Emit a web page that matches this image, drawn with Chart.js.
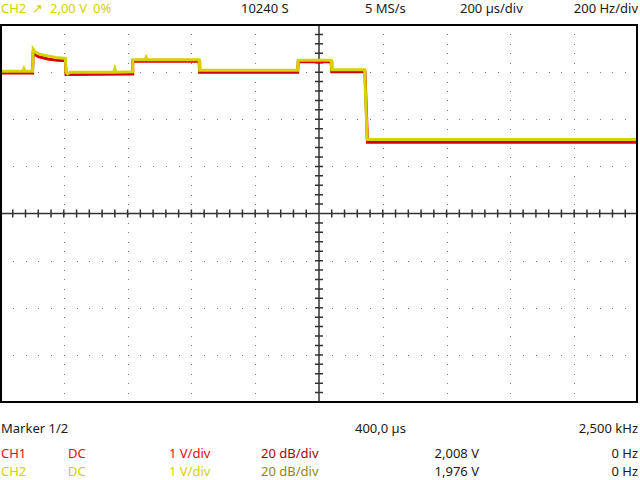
<!DOCTYPE html>
<html lang="en">
<head>
    <meta charset="UTF-8">
    <title>Scope capture</title>
    <script src="https://cdn.jsdelivr.net/npm/chart.js"></script>
    <style>
        body {
            margin: 0;
            width: 640px;
            height: 480px;
            background: #ffffff;
            font-family: "Noto Sans", "Open Sans", sans-serif;
            font-size: 13px;
            overflow: hidden;
            position: relative;
        }

        .t {
            position: absolute;
            line-height: 13px;
            white-space: nowrap;
            color: #1a1a1a;
        }

        .r { text-align: right; }
        .ch1 { color: #e01010; }
        .ch2 { color: #d6cf00; }
        .ch1d { color: #9a0a0a; }
        .ch2d { color: #8c8a10; }

        #scope {
            position: absolute;
            left: 0;
            top: 24px;
        }
    </style>
</head>
<body>
    <!-- header line -->
    <div class="t ch2" style="left:1px; top:1.5px;">CH2</div>
    <div class="t ch2" style="left:32px; top:1.5px;">↗</div>
    <div class="t ch2" style="left:50px; top:1.5px;">2,00 V</div>
    <div class="t ch2" style="left:93px; top:1.5px;">0%</div>
    <div class="t" style="left:241px; top:1.5px;">10240 S</div>
    <div class="t" style="left:365px; top:1.5px;">5 MS/s</div>
    <div class="t" style="left:460px; top:1.5px;">200 µs/div</div>
    <div class="t r" style="right:2px; top:1.5px;">200 Hz/div</div>

    <canvas id="scope" width="640" height="380"></canvas>

    <!-- marker / channel readout -->
    <div class="t" style="left:1px; top:421.5px;">Marker 1/2</div>
    <div class="t" style="left:355px; top:421.5px;">400,0 µs</div>
    <div class="t r" style="right:2px; top:421.5px;">2,500 kHz</div>

    <div class="t ch1" style="left:1px; top:446.5px;">CH1</div>
    <div class="t ch1" style="left:68px; top:446.5px;">DC</div>
    <div class="t ch1" style="left:169px; top:446.5px;">1 V/div</div>
    <div class="t ch1d" style="left:261px; top:446.5px;">20 dB/div</div>
    <div class="t r" style="right:161px; top:446.5px;">2,008 V</div>
    <div class="t r" style="right:2px; top:446.5px;">0 Hz</div>

    <div class="t ch2" style="left:1px; top:464.5px;">CH2</div>
    <div class="t ch2" style="left:68px; top:464.5px;">DC</div>
    <div class="t ch2" style="left:169px; top:464.5px;">1 V/div</div>
    <div class="t ch2d" style="left:261px; top:464.5px;">20 dB/div</div>
    <div class="t r" style="right:161px; top:464.5px;">1,976 V</div>
    <div class="t r" style="right:2px; top:464.5px;">0 Hz</div>

    <script>
        // time in µs, voltage in V (200 µs/div, 1 V/div)
        const ch2Time = [0, 72, 75, 78, 102, 104, 112, 125, 145, 175, 205, 207, 212, 220, 357, 360, 363, 414, 416, 455, 458, 461, 624, 626, 933, 935, 1038, 1040, 1143, 1151, 2000];
        const ch2Volt = [3.02, 3.02, 3.07, 3.02, 3.02, 3.49, 3.42, 3.38, 3.35, 3.31, 3.29, 3.00, 2.96, 3.00, 3.00, 3.07, 3.00, 3.01, 3.26, 3.26, 3.31, 3.26, 3.26, 3.04, 3.04, 3.25, 3.25, 3.05, 3.05, 1.57, 1.57];

        const ch1Time = [0, 102, 104, 120, 150, 180, 205, 207, 414, 416, 624, 626, 933, 935, 1038, 1040, 1144, 1152, 2000];
        const ch1Volt = [2.98, 2.98, 3.40, 3.33, 3.28, 3.25, 3.24, 2.95, 2.96, 3.23, 3.23, 3.00, 3.00, 3.22, 3.22, 3.01, 3.01, 1.51, 1.51];

        const timeDivs = 10;      // 200 µs/div
        const voltDivs = 8;       // 1 V/div
        const usPerDiv = 200;

        function toPoints(xs, ys) {
            return xs.map((x, i) => ({ x: x, y: ys[i] }));
        }

        // dotted graticule + centre cross with ticks, drawn under the traces
        const graticule = {
            id: 'graticule',
            beforeDatasetsDraw(chart) {
                const ctx = chart.ctx;
                const xs = chart.scales.x;
                const ys = chart.scales.y;
                const area = chart.chartArea;
                const tMax = usPerDiv * timeDivs;
                const vMax = voltDivs / 2;

                ctx.save();
                ctx.fillStyle = '#7a7a7a';
                // dots on vertical division lines
                for (let i = 1; i < timeDivs; i++) {
                    if (i === timeDivs / 2) continue;
                    const px = Math.round(xs.getPixelForValue(i * usPerDiv));
                    for (let k = 1; k < voltDivs * 5; k++) {
                        const py = Math.round(ys.getPixelForValue(-vMax + k * 0.2));
                        ctx.fillRect(px, py, 1, 1);
                    }
                }
                // dots on horizontal division lines
                for (let j = 1; j < voltDivs; j++) {
                    if (j === voltDivs / 2) continue;
                    const py = Math.round(ys.getPixelForValue(-vMax + j));
                    for (let k = 1; k < timeDivs * 5; k++) {
                        const px = Math.round(xs.getPixelForValue(k * usPerDiv / 5));
                        ctx.fillRect(px, py, 1, 1);
                    }
                }

                // centre cross
                const cx = xs.getPixelForValue(tMax / 2);
                const cy = ys.getPixelForValue(0);
                ctx.strokeStyle = '#333333';
                ctx.lineWidth = 1.5;
                ctx.beginPath();
                ctx.moveTo(area.left, cy);
                ctx.lineTo(area.right, cy);
                ctx.moveTo(cx, area.top);
                ctx.lineTo(cx, area.bottom);
                for (let k = 1; k < timeDivs * 5; k++) {
                    const px = xs.getPixelForValue(k * usPerDiv / 5);
                    ctx.moveTo(px, cy - 4);
                    ctx.lineTo(px, cy + 4);
                }
                for (let k = 1; k < voltDivs * 5; k++) {
                    const py = ys.getPixelForValue(-vMax + k * 0.2);
                    ctx.moveTo(cx - 4, py);
                    ctx.lineTo(cx + 4, py);
                }
                ctx.stroke();
                ctx.restore();
            },
            afterDraw(chart) {
                const ctx = chart.ctx;
                const a = chart.chartArea;
                ctx.save();
                ctx.strokeStyle = '#000000';
                ctx.lineWidth = 2;
                ctx.strokeRect(a.left + 1, a.top, a.right - a.left - 2, a.bottom - a.top);
                ctx.restore();
            }
        };

        const ctx = document.getElementById('scope').getContext('2d');
        new Chart(ctx, {
            type: 'line',
            data: {
                datasets: [
                    {
                        label: 'CH2',
                        data: toPoints(ch2Time, ch2Volt),
                        borderColor: '#d4d200',
                        borderWidth: 3,
                        order: 0
                    },
                    {
                        label: 'CH1',
                        data: toPoints(ch1Time, ch1Volt),
                        borderColor: '#d40000',
                        borderWidth: 3,
                        order: 1
                    }
                ]
            },
            options: {
                responsive: false,
                animation: false,
                layout: {
                    padding: { left: 0, right: 2, top: 1, bottom: 2 }
                },
                elements: {
                    point: { radius: 0 },
                    line: { tension: 0 }
                },
                scales: {
                    x: { type: 'linear', min: 0, max: 2000, display: false },
                    y: { type: 'linear', min: -4, max: 4, display: false }
                },
                plugins: {
                    legend: { display: false },
                    tooltip: { enabled: false }
                }
            },
            plugins: [graticule]
        });
    </script>
</body>
</html>
